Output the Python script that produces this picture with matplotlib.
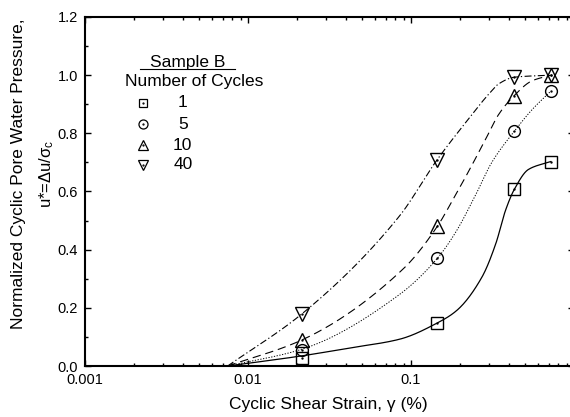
import numpy as np
import matplotlib
matplotlib.use("Agg")
import matplotlib.pyplot as plt
from matplotlib.ticker import FixedLocator, FixedFormatter, LogLocator, NullFormatter, MultipleLocator

plt.rcParams['font.family'] = ['Liberation Sans', 'DejaVu Sans']
plt.rcParams['mathtext.fontset'] = 'custom'
plt.rcParams['mathtext.rm'] = 'Liberation Sans'
plt.rcParams['mathtext.it'] = 'Liberation Sans:italic'
plt.rcParams['mathtext.sf'] = 'Liberation Sans'
plt.rcParams['lines.scale_dashes'] = False

# ---------------- data ----------------
cycles = ['1', '5', '10', '40']
strain = [0.0215, 0.145, 0.43, 0.72]            # cyclic shear strain (%)
u_1 = [0.028, 0.148, 0.607, 0.703]
u_5 = [0.055, 0.370, 0.807, 0.945]
u_10 = [0.090, 0.480, 0.930, 1.000]
u_40 = [0.180, 0.710, 0.993, 1.000]

# fitted curves
fit_x_1 = [0.0075, 0.0215, 0.042, 0.085, 0.145, 0.19, 0.272, 0.331, 0.38, 0.43, 0.526, 0.72]
fit_y_1 = [0.0, 0.035, 0.062, 0.092, 0.148, 0.19, 0.305, 0.42, 0.535, 0.607, 0.676, 0.703]
fit_x_5 = [0.0075, 0.0215, 0.0846, 0.145, 0.188, 0.25, 0.313, 0.43, 0.55, 0.72]
fit_y_5 = [0.0, 0.058, 0.245, 0.37, 0.46, 0.59, 0.70, 0.807, 0.88, 0.945]
fit_x_10 = [0.0075, 0.0215, 0.09, 0.145, 0.178, 0.226, 0.287, 0.345, 0.43, 0.55, 0.72]
fit_y_10 = [0.0, 0.09, 0.335, 0.48, 0.565, 0.67, 0.78, 0.865, 0.93, 0.98, 1.0]
fit_x_40 = [0.0075, 0.0215, 0.0845, 0.145, 0.217, 0.30, 0.345, 0.43, 0.72]
fit_y_40 = [0.0, 0.18, 0.514, 0.71, 0.838, 0.935, 0.97, 0.993, 1.0]

x_ticks = [0.001, 0.01, 0.1, 1.0]
x_ticklabels = ['0.001', '0.01', '0.1', '']
y_ticks = [0.0, 0.2, 0.4, 0.6, 0.8, 1.0, 1.2]
y_ticklabels = ['0.0', '0.2', '0.4', '0.6', '0.8', '1.0', '1.2']


def pchip(x, y, xn):
    """Monotone cubic Hermite smoothing through read-off curve points."""
    x = np.asarray(x, float); y = np.asarray(y, float)
    h = np.diff(x); d = np.diff(y) / h
    n = len(x); m = np.zeros(n)
    for k in range(1, n - 1):
        if d[k - 1] * d[k] > 0:
            w1 = 2 * h[k] + h[k - 1]; w2 = h[k] + 2 * h[k - 1]
            m[k] = (w1 + w2) / (w1 / d[k - 1] + w2 / d[k])
    m[0] = d[0]; m[-1] = d[-1]
    idx = np.clip(np.searchsorted(x, xn) - 1, 0, n - 2)
    t = (xn - x[idx]) / h[idx]
    h00 = 2 * t**3 - 3 * t**2 + 1; h10 = t**3 - 2 * t**2 + t
    h01 = -2 * t**3 + 3 * t**2; h11 = t**3 - t**2
    return h00 * y[idx] + h10 * h[idx] * m[idx] + h01 * y[idx + 1] + h11 * h[idx] * m[idx + 1]


fig = plt.figure(figsize=(5.7, 4.17), dpi=100)
ax = fig.add_axes([85 / 570, 1 - 366 / 417, 489 / 570, 349 / 417])
ax.set_xscale('log')
ax.set_xlim(0.001, 1.0)
ax.set_ylim(0.0, 1.2)

# (values, fit x, fit y, marker, plot marker size, legend marker size, linestyle, linewidth)
series = [
    (u_1, fit_x_1, fit_y_1, 's', 8, 6, '-', 0.9),
    (u_5, fit_x_5, fit_y_5, 'o', 8.5, 6.5, (0, (0.9, 1.1)), 0.7),
    (u_10, fit_x_10, fit_y_10, '^', 10, 7.5, (0, (6, 3.5)), 0.8),
    (u_40, fit_x_40, fit_y_40, 'v', 10, 7.5, (0, (5, 1.8, 0.9, 1.8)), 0.8),
]

for uy, fx, fy, mk, ms, lms, ls, lw in series:
    lx = np.log10(fx)
    xn = np.linspace(lx[0], lx[-1], 400)
    yn = pchip(lx, fy, xn)
    ax.plot(10 ** xn, yn, color='black', linestyle=ls, linewidth=lw, zorder=2)
    ax.plot(strain, uy, linestyle='none', marker=mk, markersize=ms, markerfacecolor='none',
            markeredgecolor='black', markeredgewidth=1.0, zorder=3)
    ax.plot(strain, uy, linestyle='none', marker='o', markersize=0.7, color='black', zorder=4)

# ticks
ax.xaxis.set_major_locator(FixedLocator(x_ticks))
ax.xaxis.set_major_formatter(FixedFormatter(x_ticklabels))
ax.xaxis.set_minor_locator(LogLocator(base=10, subs=np.arange(2, 10)))
ax.xaxis.set_minor_formatter(NullFormatter())
ax.yaxis.set_major_locator(FixedLocator(y_ticks))
ax.yaxis.set_major_formatter(FixedFormatter(y_ticklabels))
ax.yaxis.set_minor_locator(MultipleLocator(0.1))
ax.tick_params(which='both', direction='in', top=True, right=True, width=1.0, colors='black')
ax.tick_params(which='major', length=4.5, labelsize=10.5, pad=5)
ax.tick_params(which='minor', length=2.5)
for s in ax.spines.values():
    s.set_linewidth(1.5)

# axis labels
fig.text(328 / 570, 1 - 405 / 417, 'Cyclic Shear Strain, γ (%)', ha='center', va='center', fontsize=12.5)
fig.text(19 / 570, 1 - 174 / 417, 'Normalized Cyclic Pore Water Pressure,', rotation=90,
         ha='center', va='center', fontsize=12.5)
fig.text(47 / 570, 1 - 174 / 417, r'u*=Δu/σ$_{\rm c}$', rotation=90,
         ha='center', va='center', fontsize=12)

# legend (manual, to match the reference layout)
T = ax.transAxes
ax.text(0.209, 0.871, 'Sample B', transform=T, ha='center', va='center', fontsize=12.5)
ax.plot([0.112, 0.307], [0.850, 0.850], transform=T, color='black', linewidth=0.8)
ax.text(0.223, 0.814, 'Number of Cycles', transform=T, ha='center', va='center', fontsize=12.5)
leg_y = [0.754, 0.693, 0.633, 0.576]
for lab, (_, _, _, mk, _, lms, _, _), yy in zip(cycles, series, leg_y):
    ax.plot([0.119], [yy], transform=T, marker=mk, markersize=lms, markerfacecolor='none',
            markeredgecolor='black', markeredgewidth=0.9, linestyle='none')
    ax.plot([0.119], [yy], transform=T, marker='o', markersize=0.6, color='black', linestyle='none')
    ax.text(0.2, yy, lab, transform=T, ha='center', va='center', fontsize=12.5)

fig.savefig('out.png', dpi=100)
